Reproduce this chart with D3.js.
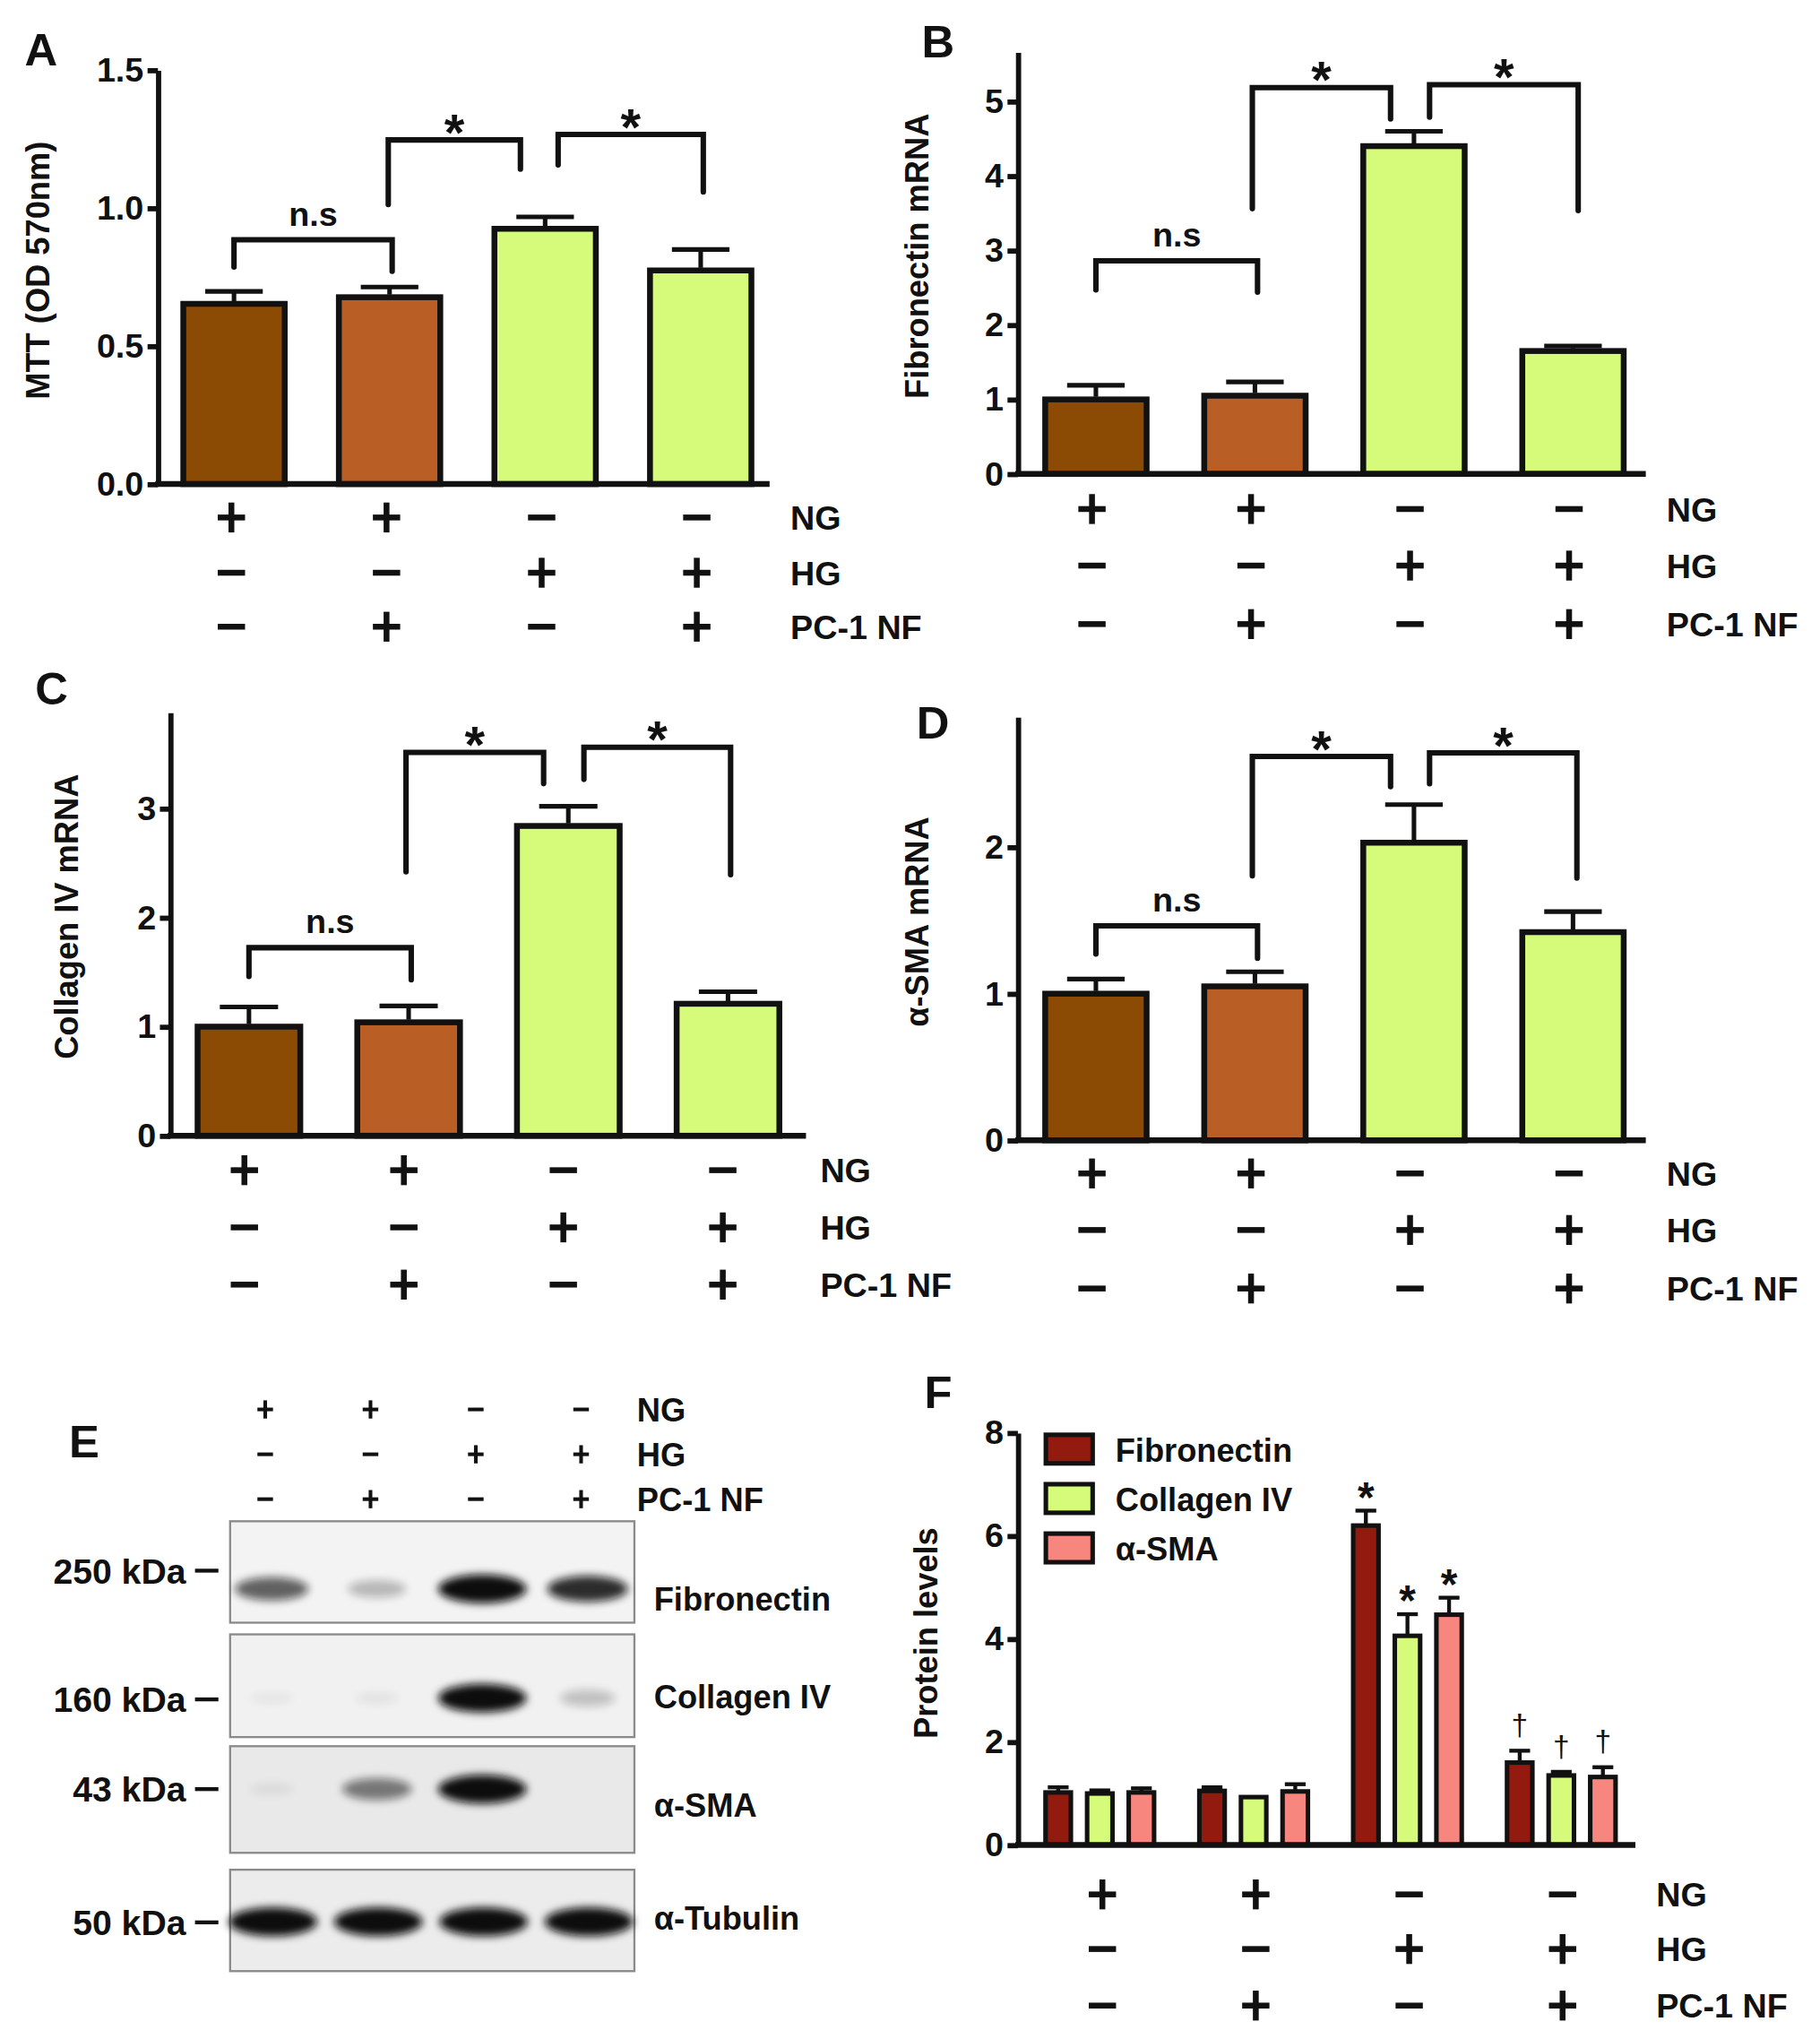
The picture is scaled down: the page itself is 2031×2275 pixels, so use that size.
<!DOCTYPE html>
<html lang="en">
<head>
<meta charset="utf-8">
<script src="https://d3js.org/d3.v7.min.js"></script>
<style>
  body { margin: 0; background: #fff; }
  svg text { font-family: "Liberation Sans", Arial, sans-serif; font-weight: bold; fill: #111; }
</style>
</head>
<body>
<svg id="fig" width="2031" height="2275" viewBox="0 0 1400 1568.2"></svg>
<script>
// ---- data ----
var groups = ["NG", "NG+NF", "HG", "HG+NF"];
var rowNames = ["NG", "HG", "PC-1 NF"];
var ngRow = [1, 1, 0, 0];
var hgRow = [0, 0, 1, 1];
var nfRow = [0, 1, 0, 1];

var mttMean = [0.653, 0.677, 0.925, 0.774];
var mttErr  = [0.045, 0.037, 0.043, 0.076];
var fnMean  = [1.00, 1.05, 4.40, 1.65];
var fnErr   = [0.19, 0.185, 0.20, 0.067];
var colMean = [1.00, 1.04, 2.84, 1.21];
var colErr  = [0.18, 0.15, 0.18, 0.11];
var smaMean = [1.00, 1.05, 2.03, 1.42];
var smaErr  = [0.10, 0.10, 0.26, 0.14];

var protSeries = ["Fibronectin", "Collagen IV", "α-SMA"];
var protFn    = [1.02, 1.05, 6.20, 1.60];
var protFnErr = [0.10, 0.07, 0.29, 0.23];
var protCol    = [1.00, 0.93, 4.06, 1.35];
var protColErr = [0.06, 0.00, 0.42, 0.07];
var protSma    = [1.02, 1.04, 4.47, 1.32];
var protSmaErr = [0.08, 0.14, 0.33, 0.19];
var protMarks  = ["", "", "*", "†"];

// western blot band strengths (0 = none, 1 = saturated)
var blotNames = ["Fibronectin", "Collagen IV", "α-SMA", "α-Tubulin"];
var blotKda   = ["250 kDa", "160 kDa", "43 kDa", "50 kDa"];
var bandFn  = [0.55, 0.22, 1.0, 0.75];
var bandCol = [0.04, 0.05, 1.0, 0.18];
var bandSma = [0.05, 0.45, 1.0, 0.0];
var bandTub = [1.0, 1.0, 1.0, 1.0];

var mrnaColors = ["#8c4b05", "#b95e24", "#d6fb7a", "#d6fb7a"];
var protColors = ["#921a0e", "#d6fb7a", "#f7877e"];

var svg = d3.select("#fig");
var conds = [ngRow, hgRow, nfRow];

function sign(g, x, y, on, s, w) {
  g.append("line").attr("x1", x - s).attr("x2", x + s).attr("y1", y).attr("y2", y)
    .attr("stroke", "#111").attr("stroke-width", w);
  if (on) g.append("line").attr("x1", x).attr("x2", x).attr("y1", y - s - 1).attr("y2", y + s + 1)
    .attr("stroke", "#111").attr("stroke-width", w);
}

function condRows(g, sx, rowsY, labelX, s, w, fs) {
  conds.forEach(function(row, r) {
    row.forEach(function(v, i) { sign(g, sx(groups[i]), rowsY[r], v, s, w); });
    g.append("text").attr("x", labelX).attr("y", rowsY[r]).attr("dy", "0.36em")
      .style("font-size", fs + "px").text(rowNames[r]);
  });
}

function leftAxis(g, p, y) {
  var ax = g.append("g").attr("transform", "translate(" + p.ax + ",0)")
    .call(d3.axisLeft(y).tickValues(p.ticks).tickFormat(p.fmt).tickSize(8).tickSizeOuter(0).tickPadding(3));
  ax.select(".domain").attr("stroke-width", 4).attr("stroke", "#111");
  ax.selectAll(".tick line").attr("stroke-width", 4).attr("stroke", "#111");
  ax.selectAll(".tick text").style("font-size", "26px");
  g.append("line").attr("x1", p.ax - 2).attr("x2", p.xEnd).attr("y1", y(0)).attr("y2", y(0))
    .attr("stroke", "#111").attr("stroke-width", 4.5);
  g.append("text").attr("transform", "translate(" + p.titleX + "," + p.titleY + ") rotate(-90)")
    .attr("text-anchor", "middle").attr("dy", "0.36em").style("font-size", "25px").text(p.title);
  g.append("text").attr("x", p.letter[0]).attr("y", p.letter[1]).style("font-size", "35px").text(p.letter[2]);
}

function barPanel(p) {
  var g = svg.append("g");
  var y = d3.scaleLinear().domain([0, p.yMax]).range([p.y0, p.yTop]);
  var x = d3.scalePoint().domain(groups).range(p.xr);
  var bw = p.bw;

  g.selectAll("rect.bar").data(p.mean).join("rect").attr("class", "bar")
    .attr("x", function(d, i) { return x(groups[i]) - bw / 2 + 2; })
    .attr("y", function(d) { return y(d); })
    .attr("width", bw - 4)
    .attr("height", function(d) { return y(0) - y(d); })
    .attr("fill", function(d, i) { return mrnaColors[i]; })
    .attr("stroke", "#111").attr("stroke-width", 4.5);

  p.mean.forEach(function(m, i) {
    var cx = x(groups[i]), top = y(m + p.err[i]);
    g.append("line").attr("x1", cx).attr("x2", cx).attr("y1", y(m) - 2).attr("y2", top)
      .attr("stroke", "#111").attr("stroke-width", 3.5);
    g.append("line").attr("x1", cx - bw * 0.27).attr("x2", cx + bw * 0.27).attr("y1", top).attr("y2", top)
      .attr("stroke", "#111").attr("stroke-width", 3.5);
  });

  // significance brackets
  p.brackets.forEach(function(b) {
    var xa = x(groups[b.a]) + b.da, xb = x(groups[b.b]) + b.db, yb = y(b.y);
    g.append("path")
      .attr("d", "M" + xa + "," + y(b.la) + "V" + yb + "H" + xb + "V" + y(b.lb))
      .attr("fill", "none").attr("stroke", "#111").attr("stroke-width", 4.2).attr("stroke-linecap", "round");
    g.append("text").attr("x", (xa + xb) / 2).attr("y", b.t === "*" ? yb + 8 : yb - 11)
      .attr("text-anchor", "middle").style("font-size", b.t === "*" ? "40px" : "26px").text(b.t);
  });

  leftAxis(g, p, y);
  condRows(g, d3.scalePoint().domain(groups).range(p.sr), p.rows, p.rowX, 10.5, 4.5, 26);
}

barPanel({
  mean: mttMean, err: mttErr, yMax: 1.5, y0: 372.3, yTop: 53.9, ax: 121.5, xEnd: 592,
  ticks: [0, 0.5, 1, 1.5], fmt: d3.format(".1f"), xr: [180, 539], bw: 82, sr: [178, 536],
  rows: [398, 440.5, 482], rowX: 608, title: "MTT (OD 570nm)", titleX: 29, titleY: 208,
  letter: [19, 50, "A"],
  brackets: [
    { a: 0, b: 1, da: 0, db: 2, y: 0.885, la: 0.786, lb: 0.771, t: "n.s" },
    { a: 1, b: 2, da: -1, db: -19, y: 1.247, la: 1.013, lb: 1.141, t: "*" },
    { a: 2, b: 3, da: 10, db: 2, y: 1.267, la: 1.156, lb: 1.058, t: "*" }
  ]
});

barPanel({
  mean: fnMean, err: fnErr, yMax: 5.66, y0: 364.5, yTop: 40.2, ax: 783, xEnd: 1266,
  ticks: [0, 1, 2, 3, 4, 5], fmt: d3.format("d"), xr: [843, 1210], bw: 82, sr: [840, 1207],
  rows: [391.5, 435, 480], rowX: 1282, title: "Fibronectin mRNA", titleX: 705, titleY: 197,
  letter: [709, 44, "B"],
  brackets: [
    { a: 0, b: 1, da: 0, db: 2, y: 2.86, la: 2.47, lb: 2.44, t: "n.s" },
    { a: 1, b: 2, da: -2, db: -18, y: 5.185, la: 3.56, lb: 4.764, t: "*" },
    { a: 2, b: 3, da: 12, db: 4, y: 5.225, la: 4.79, lb: 3.534, t: "*" }
  ]
});

barPanel({
  mean: colMean, err: colErr, yMax: 3.88, y0: 873.5, yTop: 548, ax: 131, xEnd: 620,
  ticks: [0, 1, 2, 3], fmt: d3.format("d"), xr: [191.5, 560], bw: 83, sr: [188, 556],
  rows: [900, 944, 988], rowX: 631, title: "Collagen IV mRNA", titleX: 51, titleY: 705,
  letter: [27, 542, "C"],
  brackets: [
    { a: 0, b: 1, da: 0, db: 2, y: 1.724, la: 1.46, lb: 1.43, t: "n.s" },
    { a: 1, b: 2, da: -2, db: -19, y: 3.514, la: 2.42, lb: 3.228, t: "*" },
    { a: 2, b: 3, da: 12, db: 2, y: 3.562, la: 3.267, lb: 2.393, t: "*" }
  ]
});

barPanel({
  mean: smaMean, err: smaErr, yMax: 2.887, y0: 877, yTop: 551.5, ax: 783, xEnd: 1266,
  ticks: [0, 1, 2], fmt: d3.format("d"), xr: [843, 1210], bw: 82, sr: [840, 1207],
  rows: [902.5, 946, 991], rowX: 1282, title: "α-SMA mRNA", titleX: 705, titleY: 709,
  letter: [705, 568, "D"],
  brackets: [
    { a: 0, b: 1, da: 0, db: 2, y: 1.463, la: 1.27, lb: 1.242, t: "n.s" },
    { a: 1, b: 2, da: -2, db: -18, y: 2.618, la: 1.804, lb: 2.412, t: "*" },
    { a: 2, b: 3, da: 12, db: 3, y: 2.643, la: 2.432, lb: 1.789, t: "*" }
  ]
});

// ---- panel E: western blot ----
(function() {
  var g = svg.append("g");
  var lane = d3.scalePoint().domain(groups).range([204, 447]);
  var defs = svg.append("defs");
  defs.append("filter").attr("id", "blur").attr("x", "-50%").attr("y", "-100%")
    .attr("width", "200%").attr("height", "300%")
    .append("feGaussianBlur").attr("stdDeviation", 3.2);

  g.append("text").attr("x", 53).attr("y", 1121).style("font-size", "35px").text("E");
  condRows(g, lane, [1084, 1118.5, 1153], 490, 6, 2.8, 25);

  var boxes = [
    { top: 1170, bot: 1248, fill: "#f3f3f3", band: bandFn, cy: 1222, kdaY: 1208, labY: 1230 },
    { top: 1257, bot: 1336, fill: "#f1f1f1", band: bandCol, cy: 1306, kdaY: 1307, labY: 1305 },
    { top: 1343, bot: 1425, fill: "#e9e9e9", band: bandSma, cy: 1376, kdaY: 1376, labY: 1388 },
    { top: 1438, bot: 1516, fill: "#ececec", band: bandTub, cy: 1478, kdaY: 1478.5, labY: 1475 }
  ];
  boxes.forEach(function(b, k) {
    g.append("rect").attr("x", 177).attr("y", b.top).attr("width", 311).attr("height", b.bot - b.top)
      .attr("fill", b.fill).attr("stroke", "#8a8a8a").attr("stroke-width", 1.6);
    g.selectAll(null).data(b.band).join("ellipse")
      .attr("cx", function(d, i) { return lane(groups[i]) + (k === 3 ? 6 : 5); })
      .attr("cy", b.cy)
      .attr("rx", function(d) { return 12 + 22 * Math.sqrt(d); })
      .attr("ry", function(d) { return 3 + 8 * Math.sqrt(d); })
      .attr("fill", "#0a0a0a")
      .attr("opacity", function(d) { return Math.min(1, d * 1.15); })
      .attr("filter", "url(#blur)");
    g.append("text").attr("x", 143).attr("y", b.kdaY).attr("dy", "0.36em")
      .attr("text-anchor", "end").style("font-size", "27px").text(blotKda[k]);
    g.append("line").attr("x1", 150).attr("x2", 168).attr("y1", b.kdaY).attr("y2", b.kdaY)
      .attr("stroke", "#111").attr("stroke-width", 3);
    g.append("text").attr("x", 503).attr("y", b.labY).attr("dy", "0.36em")
      .style("font-size", "25px").text(blotNames[k]);
  });
})();

// ---- panel F: protein levels ----
(function() {
  var g = svg.append("g");
  var p = { ax: 783, xEnd: 1258, ticks: [0, 2, 4, 6, 8], fmt: d3.format("d"),
    title: "Protein levels", titleX: 712, titleY: 1256, letter: [711, 1083, "F"] };
  var y = d3.scaleLinear().domain([0, 8]).range([1419, 1102]);
  var x = d3.scalePoint().domain(groups).range([846, 1201]);
  var s = d3.scalePoint().domain(protSeries).range([-32, 32]);
  var bw = 23;
  var series = [
    { name: protSeries[0], mean: protFn, err: protFnErr },
    { name: protSeries[1], mean: protCol, err: protColErr },
    { name: protSeries[2], mean: protSma, err: protSmaErr }
  ];

  series.forEach(function(se, k) {
    g.selectAll(null).data(se.mean).join("rect")
      .attr("x", function(d, i) { return x(groups[i]) + s(se.name) - bw / 2 + 1.75; })
      .attr("y", function(d) { return y(d); })
      .attr("width", bw - 3.5)
      .attr("height", function(d) { return y(0) - y(d); })
      .attr("fill", protColors[k]).attr("stroke", "#111").attr("stroke-width", 3.5);
    se.mean.forEach(function(m, i) {
      var cx = x(groups[i]) + s(se.name), top = y(m + se.err[i]);
      if (se.err[i] > 0) {
        g.append("line").attr("x1", cx).attr("x2", cx).attr("y1", y(m)).attr("y2", top)
          .attr("stroke", "#111").attr("stroke-width", 3);
        g.append("line").attr("x1", cx - 8).attr("x2", cx + 8).attr("y1", top).attr("y2", top)
          .attr("stroke", "#111").attr("stroke-width", 3);
      }
      var mk = protMarks[i];
      if (mk === "*") {
        g.append("text").attr("x", cx).attr("y", top + 1).attr("text-anchor", "middle")
          .style("font-size", "33px").text(mk);
      } else if (mk === "†") {
        g.append("text").attr("x", cx).attr("y", top - 12).attr("text-anchor", "middle")
          .style("font-size", "23px").style("font-weight", "normal").text(mk);
      }
    });
  });

  leftAxis(g, p, y);

  // legend
  protSeries.forEach(function(name, k) {
    var ly = 1102 + k * 38;
    g.append("rect").attr("x", 804.5).attr("y", ly + 1.5).attr("width", 36).attr("height", 22)
      .attr("fill", protColors[k]).attr("stroke", "#111").attr("stroke-width", 3.5);
    g.append("text").attr("x", 858).attr("y", ly + 13).attr("dy", "0.36em")
      .style("font-size", "25px").text(name);
  });

  condRows(g, d3.scalePoint().domain(groups).range([848, 1202]), [1457, 1499, 1542.5], 1274, 10.5, 4.5, 26);
})();
</script>
</body>
</html>
